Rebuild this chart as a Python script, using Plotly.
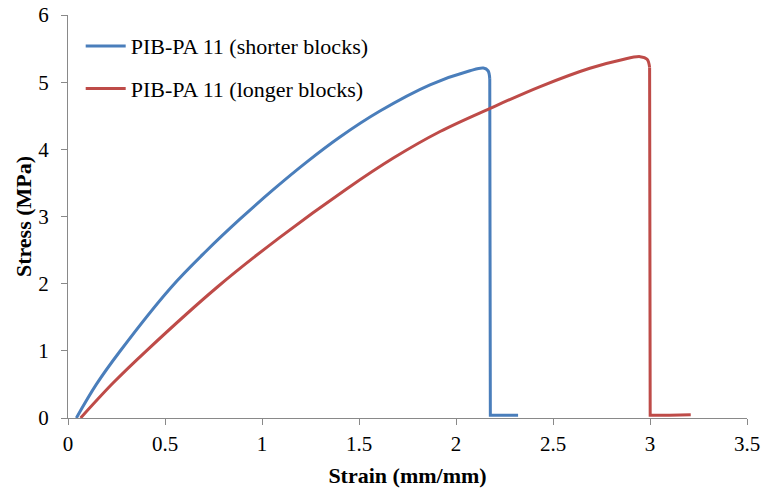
import plotly.graph_objects as go

# Stress-strain data for the two PIB-PA 11 block copolymers.
# Each curve = smooth loading part + abrupt failure (drop and residual tail).
shorter_load_x = [0.043, 0.146, 0.267, 0.53, 0.714, 0.886, 1.058, 1.23, 1.40,
                  1.608, 1.866, 2.072, 2.141, 2.165, 2.174]
shorter_load_y = [0.0, 0.50, 0.99, 1.94, 2.49, 2.96, 3.40, 3.81, 4.18,
                  4.57, 4.96, 5.17, 5.21, 5.17, 5.05]
shorter_fail_x = [2.174, 2.177, 2.25, 2.32]
shorter_fail_y = [5.05, 0.04, 0.04, 0.04]

longer_load_x = [0.065, 0.232, 0.404, 0.77, 1.092, 1.436, 1.677, 1.918, 2.176,
                 2.434, 2.69, 2.85, 2.949, 2.985, 2.998]
longer_load_y = [0.0, 0.52, 1.0, 1.95, 2.69, 3.41, 3.87, 4.265, 4.61,
                 4.935, 5.208, 5.33, 5.38, 5.34, 5.22]
longer_fail_x = [2.998, 3.001, 3.1, 3.21]
longer_fail_y = [5.22, 0.04, 0.04, 0.05]

series = [
    ("PIB-PA 11 (shorter blocks)", "#4A7EBB",
     (shorter_load_x, shorter_load_y), (shorter_fail_x, shorter_fail_y)),
    ("PIB-PA 11 (longer blocks)", "#BE4B48",
     (longer_load_x, longer_load_y), (longer_fail_x, longer_fail_y)),
]

x_ticks = [0, 0.5, 1, 1.5, 2, 2.5, 3, 3.5]
x_tick_text = ["0", "0.5", "1", "1.5", "2", "2.5", "3", "3.5"]
y_ticks = [0, 1, 2, 3, 4, 5, 6]

FONT = "Liberation Serif"
AXIS_GREY = "#898989"

fig = go.Figure()
for i, (name, color, load, fail) in enumerate(series):
    fig.add_trace(go.Scatter(
        x=load[0], y=load[1], mode="lines", name=name,
        legendgroup=f"g{i}",
        line=dict(color=color, width=3, shape="spline", smoothing=1.0),
    ))
    fig.add_trace(go.Scatter(
        x=fail[0], y=fail[1], mode="lines", name=name,
        legendgroup=f"g{i}", showlegend=False,
        line=dict(color=color, width=3),
    ))

fig.update_layout(
    width=763, height=491,
    margin=dict(l=68, r=16, t=15, b=73),
    paper_bgcolor="white", plot_bgcolor="white",
    font=dict(family=FONT, size=21, color="black"),
    showlegend=True,
    legend=dict(
        x=0.0187, y=0.975, xanchor="left", yanchor="top",
        font=dict(family=FONT, size=22, color="black"),
        bgcolor="rgba(0,0,0,0)", borderwidth=0,
        tracegroupgap=11, itemwidth=40,
    ),
    xaxis=dict(
        range=[0, 3.5], tickvals=x_ticks, ticktext=x_tick_text,
        showgrid=False, zeroline=False, automargin=False,
        showline=True, linecolor=AXIS_GREY, linewidth=1,
        ticks="outside", ticklen=6, tickcolor=AXIS_GREY, tickwidth=1,
        ticklabelstandoff=1,
        tickfont=dict(family=FONT, size=21, color="black"),
        title=dict(text="<b>Strain (mm/mm)</b>", standoff=12,
                   font=dict(family=FONT, size=22, color="black")),
    ),
    yaxis=dict(
        range=[0, 6], tickvals=y_ticks,
        showgrid=False, zeroline=False, automargin=False,
        showline=True, linecolor=AXIS_GREY, linewidth=1,
        ticks="outside", ticklen=6, tickcolor=AXIS_GREY, tickwidth=1,
        ticklabelstandoff=8,
        tickfont=dict(family=FONT, size=21, color="black"),
        title=dict(text="<b>Stress (MPa)</b>", standoff=0,
                   font=dict(family=FONT, size=22, color="black")),
    ),
)

fig.write_html("out.html")
